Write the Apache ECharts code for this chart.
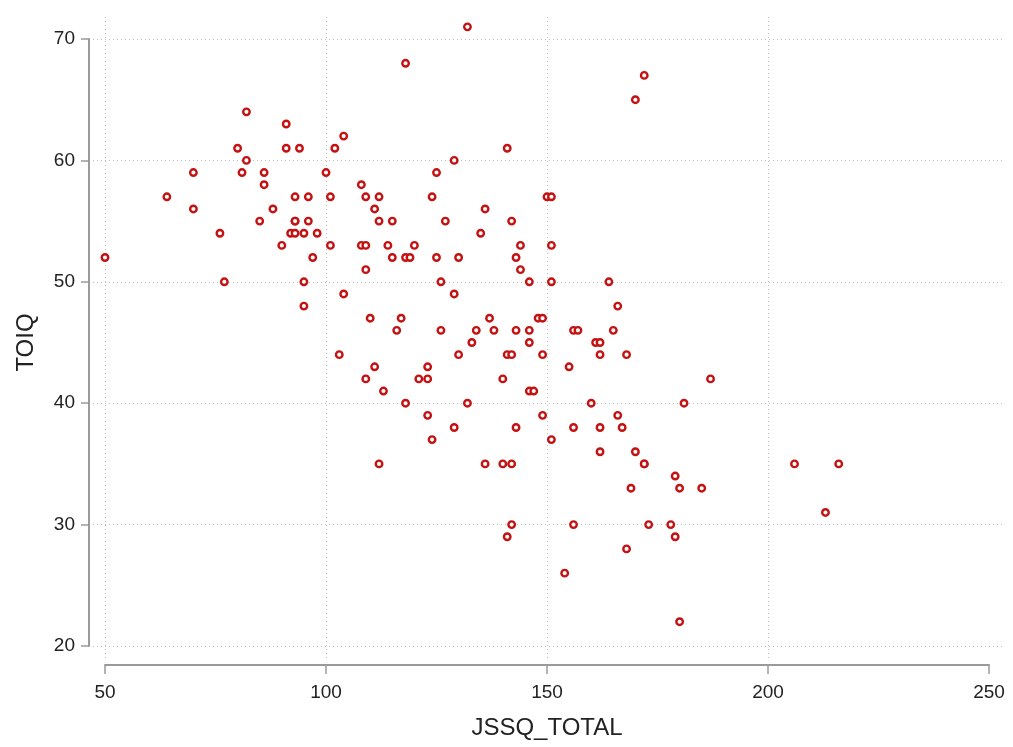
<!DOCTYPE html>
<html>
<head>
<meta charset="utf-8">
<script src="https://cdn.jsdelivr.net/npm/echarts@6/dist/echarts.min.js"></script>
<style>html,body{margin:0;padding:0;background:#fff;}#c{width:1013px;height:747px;}</style>
</head>
<body>
<div id="c"></div>
<script>
// ---- data ----
const jssqTotal = [
  82,91,80,91,94,102,104,82,70,81,86,86,100,64,93,96,101,70,88,85,93,93,96,76,92,93,95,98,90,101,97,50,77,95,104,95,103,
  132,118,141,129,125,108,109,112,124,150,151,111,136,112,115,127,142,135,108,109,114,120,144,151,115,118,119,125,130,143,109,144,126,146,151,129,110,117,137,148,149,116,126,134,138,143,146,156,157,
  133,146,130,141,142,149,111,123,155,109,121,123,140,113,146,147,118,132,123,149,129,143,156,124,151,112,136,140,142,142,156,141,154,
  165,161,162,162,168,187,160,181,166,162,167,162,170,172,172,206,216,179,169,180,185,213,173,178,179,168,180,172,170,164,166
];
const toiq = [
  64,63,61,61,61,61,62,60,59,59,59,58,59,57,57,57,57,56,56,55,55,55,55,54,54,54,54,54,53,53,52,52,50,50,49,48,44,
  71,68,61,60,59,58,57,57,57,57,57,56,56,55,55,55,55,54,53,53,53,53,53,53,52,52,52,52,52,52,51,51,50,50,50,49,47,47,47,47,47,46,46,46,46,46,46,46,46,
  45,45,44,44,44,44,43,43,43,42,42,42,42,41,41,41,40,40,39,39,38,38,38,37,37,35,35,35,35,30,30,29,26,
  46,45,45,44,44,42,40,40,39,38,38,36,36,35,35,35,35,34,33,33,33,31,30,30,29,28,22,67,65,50,48
];
const xTicks = [50, 100, 150, 200, 250];
const yTicks = [20, 30, 40, 50, 60, 70];
const xTitle = 'JSSQ_TOTAL';
const yTitle = 'TOIQ';

// ---- layout ----
const W = 1013, H = 747;
const G = {left: 105, right: 24, top: 39, bottom: 101};
const xMin = xTicks[0], xMax = xTicks[xTicks.length - 1];
const yMin = yTicks[0], yMax = yTicks[yTicks.length - 1];
const pxX = (W - G.left - G.right) / (xMax - xMin);
const pxY = (H - G.top - G.bottom) / (yMax - yMin);
const GB = {left: 93, right: 8, top: 15, bottom: 89}; // plot region with margins (gridlines)

const points = jssqTotal.map((x, i) => [x, toiq[i]]);
const font = "'Liberation Sans', Arial, sans-serif";
const axisGray = '#9a9a9a';
const gridStyle = {color: '#bdbdbd', width: 1, type: [1, 3]};

const chart = echarts.init(document.getElementById('c'), null, {renderer: 'canvas'});
chart.setOption({
  backgroundColor: '#ffffff',
  animation: false,
  grid: [
    {left: G.left, right: G.right, top: G.top, bottom: G.bottom},
    {left: GB.left, right: GB.right, top: GB.top, bottom: GB.bottom}
  ],
  xAxis: [
    {
      type: 'value', gridIndex: 0, min: xMin, max: xMax, interval: 50, offset: 19,
      axisLine: {show: true, lineStyle: {color: axisGray, width: 2}},
      axisTick: {show: true, length: 9, lineStyle: {color: axisGray, width: 1.5}},
      axisLabel: {fontFamily: font, fontSize: 19, color: '#222', margin: 18},
      splitLine: {show: false},
      name: xTitle, nameLocation: 'middle', nameGap: 51,
      nameTextStyle: {fontFamily: font, fontSize: 24, color: '#222'}
    },
    {
      type: 'value', gridIndex: 1, show: false,
      min: xMin - (G.left - GB.left) / pxX,
      max: xMax + ((W - GB.right) - (W - G.right)) / pxX
    }
  ],
  yAxis: [
    {
      type: 'value', gridIndex: 0, min: yMin, max: yMax, interval: 10, offset: 16,
      axisLine: {show: true, lineStyle: {color: axisGray, width: 2}},
      axisTick: {show: true, length: 8, lineStyle: {color: axisGray, width: 1.5}},
      axisLabel: {fontFamily: font, fontSize: 19, color: '#222', margin: 14},
      splitLine: {show: false},
      name: yTitle, nameLocation: 'middle', nameGap: 51, nameRotate: 90,
      nameTextStyle: {fontFamily: font, fontSize: 24, color: '#222'}
    },
    {
      type: 'value', gridIndex: 1, show: false,
      min: yMin - ((H - GB.bottom) - (H - G.bottom)) / pxY,
      max: yMax + (G.top - GB.top) / pxY
    }
  ],
  series: [
    {
      type: 'scatter', xAxisIndex: 1, yAxisIndex: 1, data: [], silent: true, z: 1,
      markLine: {
        silent: true, symbol: 'none', animation: false,
        label: {show: false},
        lineStyle: gridStyle,
        emphasis: {disabled: true},
        data: xTicks.slice(0, -1).map(v => ({xAxis: v})).concat(yTicks.map(v => ({yAxis: v})))
      }
    },
    {
      type: 'scatter', xAxisIndex: 0, yAxisIndex: 0, data: points, z: 5, clip: false,
      symbol: 'circle', symbolSize: 6.5,
      itemStyle: {color: '#ffffff', borderColor: '#c41212', borderWidth: 2.4, opacity: 1}
    }
  ]
});
</script>
</body>
</html>
